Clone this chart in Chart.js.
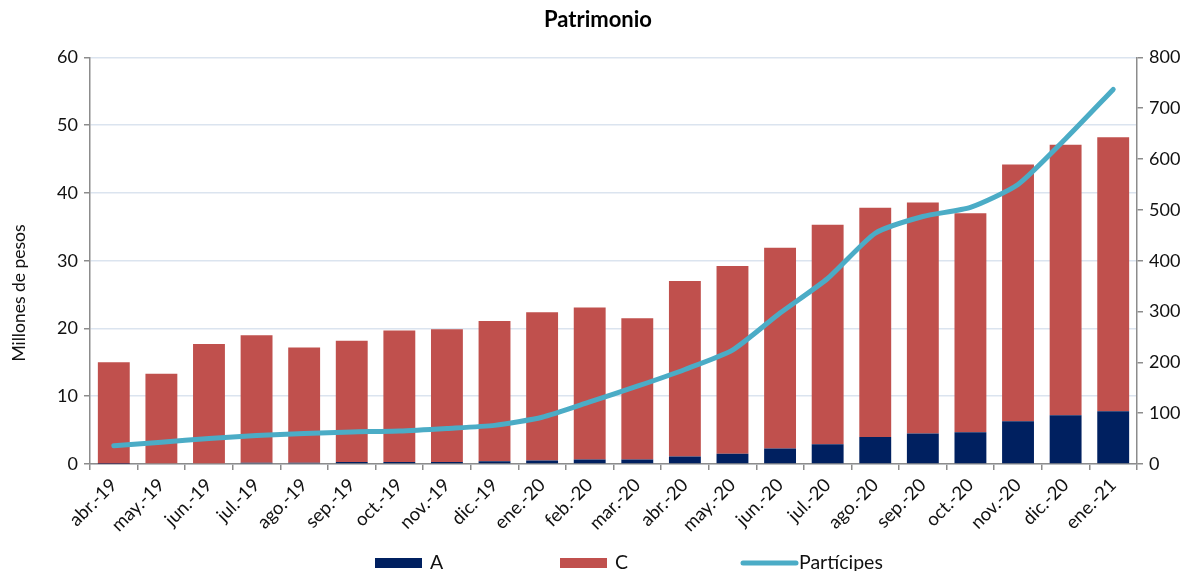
<!DOCTYPE html>
<html lang="es">
<head>
<meta charset="UTF-8">
<title>Patrimonio</title>
<script src="https://cdn.jsdelivr.net/npm/chart.js"></script>
<style>
  html, body { margin: 0; padding: 0; background: #fff; }
  #wrap { width: 1196px; height: 571px; }
</style>
</head>
<body>
<div id="wrap"><canvas id="grafica"></canvas></div>
<script>
const meses = ["abr.-19", "may.-19", "jun.-19", "jul.-19", "ago.-19", "sep.-19", "oct.-19", "nov.-19", "dic.-19",
  "ene.-20", "feb.-20", "mar.-20", "abr.-20", "may.-20", "jun.-20", "jul.-20", "ago.-20", "sep.-20", "oct.-20",
  "nov.-20", "dic.-20", "ene.-21"];

// patrimonio total por mes (millones de pesos)
const totales = [15.0, 13.3, 17.7, 19.0, 17.2, 18.2, 19.7, 19.9, 21.1, 22.4, 23.1, 21.5, 27.0, 29.2, 31.9, 35.3,
  37.8, 38.6, 37.0, 44.2, 47.1, 48.2];
// serie A
const serieA = [0.05, 0.1, 0.1, 0.2, 0.2, 0.3, 0.3, 0.3, 0.4, 0.5, 0.65, 0.65, 1.1, 1.5, 2.3, 2.9, 4.0, 4.5, 4.7,
  6.3, 7.2, 7.8];
// serie C = total - A
const serieC = totales.map((t, i) => +(t - serieA[i]).toFixed(2));
// participes (eje derecho)
const participes = [36, 43, 50, 56, 60, 63, 65, 70, 76, 92, 122, 153, 186, 224, 297, 365, 454, 487, 505, 550, 640, 737];

const fuente = "Lato, 'Liberation Sans', sans-serif";
const gris = "#8c8c8c";

// leyenda y título del eje a mano (Chart.js mete el padding también en vertical)
const leyendaPlugin = {
  id: "leyendaAbajo",
  afterDraw(chart) {
    const ctx = chart.ctx;
    const xs = [375, 560, 741];
    const y = 563;
    ctx.save();
    ctx.font = "19.5px " + fuente;
    ctx.textBaseline = "middle";
    chart.data.datasets.forEach((ds, i) => {
      const x = xs[i];
      if (ds.type === "line") {
        ctx.strokeStyle = ds.borderColor;
        ctx.lineWidth = 5;
        ctx.lineCap = "round";
        ctx.beginPath();
        ctx.moveTo(x + 2, y);
        ctx.lineTo(x + 55, y);
        ctx.stroke();
        ctx.fillStyle = "#111";
        ctx.fillText(ds.label, x + 58, y);
      } else {
        ctx.fillStyle = ds.backgroundColor;
        ctx.fillRect(x, y - 5, 47, 10);
        ctx.fillStyle = "#111";
        ctx.fillText(ds.label, x + 55, y);
      }
    });
    // titulo eje izquierdo
    ctx.translate(19, 293);
    ctx.rotate(-Math.PI / 2);
    ctx.textAlign = "center";
    ctx.font = "17.5px " + fuente;
    ctx.fillStyle = "#111";
    ctx.fillText("Millones de pesos", 0, 0);
    ctx.restore();
  }
};

new Chart(document.getElementById("grafica"), {
  data: {
    labels: meses,
    datasets: [
      {
        type: "bar",
        label: "A",
        data: serieA,
        backgroundColor: "#002060",
        yAxisID: "y",
        order: 1
      },
      {
        type: "bar",
        label: "C",
        data: serieC,
        backgroundColor: "#C0504D",
        yAxisID: "y",
        order: 1
      },
      {
        type: "line",
        label: "Partícipes",
        data: participes,
        borderColor: "#4BACC6",
        backgroundColor: "#4BACC6",
        borderWidth: 5,
        borderCapStyle: "round",
        pointRadius: 0,
        tension: 0.2,
        yAxisID: "y1",
        order: 0
      }
    ]
  },
  options: {
    responsive: true,
    maintainAspectRatio: false,
    animation: false,
    layout: { padding: { left: 0, right: 0, top: 0, bottom: 20 } },
    datasets: {
      bar: { categoryPercentage: 0.67, barPercentage: 1 }
    },
    plugins: {
      legend: { display: false },
      tooltip: { enabled: false },
      title: {
        display: true,
        text: "Patrimonio",
        color: "#000",
        font: { family: fuente, size: 22, weight: "bold" },
        padding: { top: 7, bottom: 24 }
      }
    },
    scales: {
      x: {
        stacked: true,
        grid: { offset: true, drawOnChartArea: false, tickLength: 6, tickColor: gris, lineWidth: 1.5 },
        border: { color: gris, width: 1.5 },
        ticks: {
          color: "#111",
          font: { family: fuente, size: 18.5 },
          maxRotation: 45,
          minRotation: 45,
          autoSkip: false,
          padding: 4
        },
        afterFit(scale) { scale.height = 87; }
      },
      y: {
        stacked: true,
        position: "left",
        min: 0,
        max: 60,
        ticks: { stepSize: 10, color: "#111", font: { family: fuente, size: 18 }, padding: 6 },
        grid: { color: "#dbe4ef", lineWidth: 1.5, tickLength: 6, tickColor: gris },
        border: { color: gris, width: 1.5 },
        afterFit(scale) { scale.width = 90; }
      },
      y1: {
        position: "right",
        min: 0,
        max: 800,
        ticks: { stepSize: 100, color: "#111", font: { family: fuente, size: 18 }, padding: 6 },
        grid: { drawOnChartArea: false, tickLength: 6, tickColor: gris, lineWidth: 1.5 },
        border: { color: gris, width: 1.5 },
        afterFit(scale) { scale.width = 59; }
      }
    }
  },
  plugins: [leyendaPlugin]
});
</script>
</body>
</html>
